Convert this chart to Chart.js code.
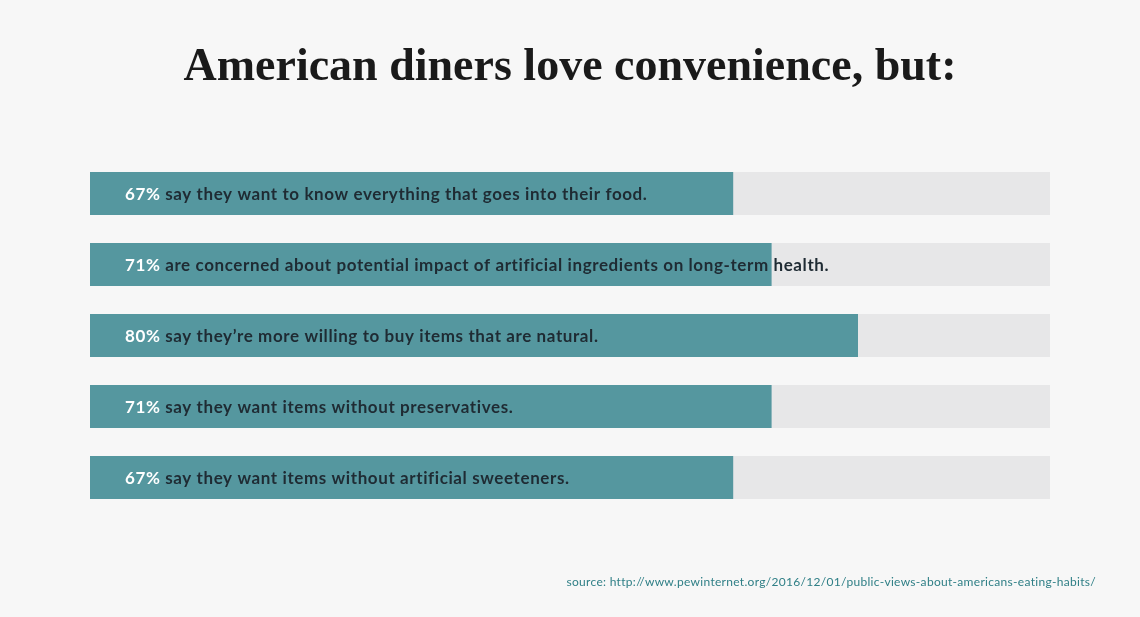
<!DOCTYPE html>
<html><head><meta charset="utf-8">
<script src="https://cdn.jsdelivr.net/npm/chart.js@4"></script>
<style>html,body{margin:0;background:#f7f7f7;}#w{width:1140px;height:617px;}</style>
</head><body><div id="w"><canvas id="c"></canvas></div>
<script>
const categories = ["a","b","c","d","e"];
const percents = [67, 71, 80, 71, 67];
const statements = [
  "say they want to know everything that goes into their food.",
  "are concerned about potential impact of artificial ingredients on long-term health.",
  "say they\u2019re more willing to buy items that are natural.",
  "say they want items without preservatives.",
  "say they want items without artificial sweeteners."
];
const track = [100,100,100,100,100];
const titleText = "American diners love convenience, but:";
const sourceText = "source: http://www.pewinternet.org/2016/12/01/public-views-about-americans-eating-habits/";

const labelPlugin = {
  id: 'labels',
  afterDatasetsDraw(chart) {
    const ctx = chart.ctx;
    const meta = chart.getDatasetMeta(1);
    ctx.save();
    try { ctx.letterSpacing = '0.6px'; } catch(e) {}
    ctx.textBaseline = 'middle';
    ctx.font = 'bold 17px Lato';
    meta.data.forEach((bar, i) => {
      const x0 = chart.scales.x.getPixelForValue(0) + 35;
      const y = bar.y + 1;
      const p = percents[i] + '%';
      ctx.fillStyle = '#ffffff';
      ctx.fillText(p, x0, y);
      const w = ctx.measureText(p + ' ').width;
      ctx.fillStyle = '#1f2b33';
      ctx.fillText(statements[i], x0 + w, y);
    });
    ctx.letterSpacing = '0px';
    ctx.textAlign = 'center';
    ctx.fillStyle = '#1a1a1a';
    ctx.font = 'bold 46px "Liberation Serif"';
    ctx.fillText(titleText, 570, 68);
    ctx.textAlign = 'right';
    ctx.font = '12px Lato';
    try { ctx.letterSpacing = '0.3px'; } catch(e) {}
    ctx.fillStyle = '#2f7f86';
    ctx.fillText(sourceText, 1096, 582);
    ctx.restore();
  }
};

new Chart(document.getElementById('c'), {
  type: 'bar',
  data: {
    labels: categories,
    datasets: [
      { data: track, backgroundColor: '#e7e7e8', grouped: false, order: 2, barPercentage: 0.605, categoryPercentage: 1 },
      { data: percents, backgroundColor: '#55979f', grouped: false, order: 1, barPercentage: 0.605, categoryPercentage: 1 }
    ]
  },
  options: {
    indexAxis: 'y',
    responsive: true,
    maintainAspectRatio: false,
    animation: false,
    layout: { padding: { left: 90, right: 90, top: 158, bottom: 104 } },
    scales: {
      x: { display: false, min: 0, max: 100 },
      y: { display: false }
    },
    plugins: { legend: { display: false }, tooltip: { enabled: false } }
  },
  plugins: [labelPlugin]
});
</script></body></html>
